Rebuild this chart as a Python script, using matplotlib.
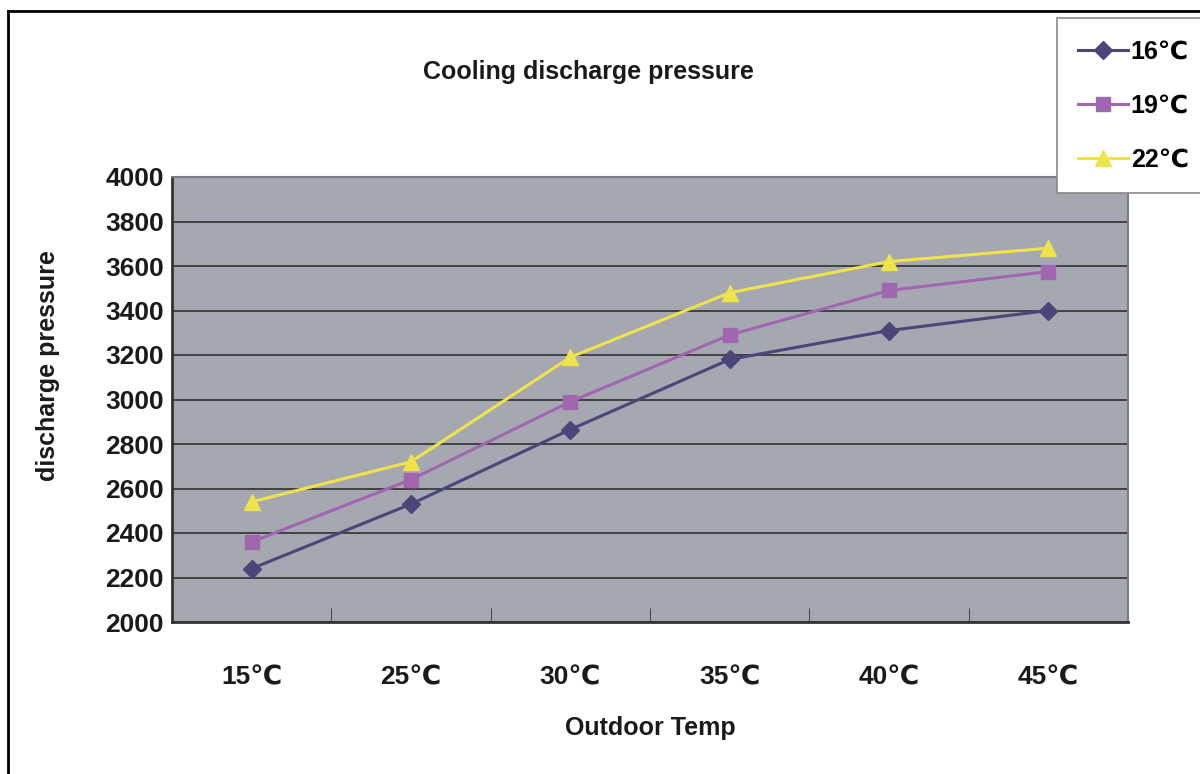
import numpy as np
import matplotlib
matplotlib.use("Agg")
import matplotlib.pyplot as plt
from matplotlib.lines import Line2D

# data
temps = ['15℃', '25℃', '30℃', '35℃', '40℃', '45℃']
p16 = [2240, 2530, 2865, 3180, 3310, 3400]
p19 = [2360, 2640, 2990, 3290, 3490, 3575]
p22 = [2540, 2720, 3190, 3480, 3620, 3680]
series_names = ['16℃', '19℃', '22℃']
y_ticks = [2000, 2200, 2400, 2600, 2800, 3000, 3200, 3400, 3600, 3800, 4000]

fam = ['Liberation Sans', 'DejaVu Sans']

fig = plt.figure(figsize=(12, 7.74), dpi=100)
ax = fig.add_axes([172 / 1200, 1 - 622 / 774, (1128 - 172) / 1200, (622 - 177) / 774])
ax.set_facecolor('#a6a8b1')

x = np.arange(len(temps))
ax.plot(x, p16, color='#4b4579', lw=2.2, marker='D', ms=9, label=series_names[0], zorder=3)
ax.plot(x, p19, color='#a067b0', lw=2.2, marker='s', ms=10, label=series_names[1], zorder=3)
ax.plot(x, p22, color='#efe34c', lw=2.2, marker='^', ms=11, label=series_names[2], zorder=3)

ax.set_xlim(-0.5, len(temps) - 0.5)
ax.set_ylim(2000, 4000)
ax.set_yticks(y_ticks)
ax.set_yticklabels([str(v) for v in y_ticks])
ax.yaxis.grid(True, color='#3a3a3a', lw=1.3)
ax.set_axisbelow(True)

ax.set_xticks(x)
ax.set_xticklabels(temps)
ax.set_xticks(np.arange(-0.5, len(temps)), minor=True)
ax.tick_params(axis='x', which='major', length=0, pad=31)
ax.tick_params(axis='x', which='minor', direction='in', length=10, color='#333333')
ax.tick_params(axis='y', direction='in', length=0, pad=6)

for lab in ax.get_xticklabels() + ax.get_yticklabels():
    lab.set_family(fam)
    lab.set_fontweight('bold')
    lab.set_fontsize(19)
    lab.set_color('#1a1a1a')

for s in ['left', 'bottom']:
    ax.spines[s].set_color('#333333')
    ax.spines[s].set_linewidth(2)
for s in ['right', 'top']:
    ax.spines[s].set_color('#7a7c85')
    ax.spines[s].set_linewidth(1.5)

fig.text(588 / 1200, 1 - 72 / 774, 'Cooling discharge pressure', ha='center', va='center',
         family=fam, fontweight='bold', fontsize=18, color='#1a1a1a')
fig.text(650 / 1200, 1 - 728 / 774, 'Outdoor Temp', ha='center', va='center',
         family=fam, fontweight='bold', fontsize=18, color='#1a1a1a')
fig.text(48 / 1200, 1 - 366 / 774, 'discharge pressure', ha='center', va='center', rotation=90,
         family=fam, fontweight='bold', fontsize=18, color='#1a1a1a')

# outer frame lines (left and top)
fig.add_artist(Line2D([8 / 1200, 8 / 1200], [0, 1 - 11 / 774], transform=fig.transFigure,
                      color='black', lw=2))
fig.add_artist(Line2D([8 / 1200, 1], [1 - 11 / 774, 1 - 11 / 774], transform=fig.transFigure,
                      color='black', lw=2))

leg = ax.legend(loc='upper left', bbox_to_anchor=(1057 / 1200, 1 - 18 / 774),
                bbox_transform=fig.transFigure, frameon=True, fancybox=False,
                handlelength=2.0, labelspacing=1.2, borderpad=0.85, borderaxespad=0,
                handletextpad=0.1, prop={'family': fam, 'weight': 'bold', 'size': 18})
leg.get_frame().set_edgecolor('#888888')
leg.get_frame().set_linewidth(1.2)
leg.get_frame().set_facecolor('white')
leg.get_frame().set_alpha(1)

fig.savefig('out.png', dpi=100)
